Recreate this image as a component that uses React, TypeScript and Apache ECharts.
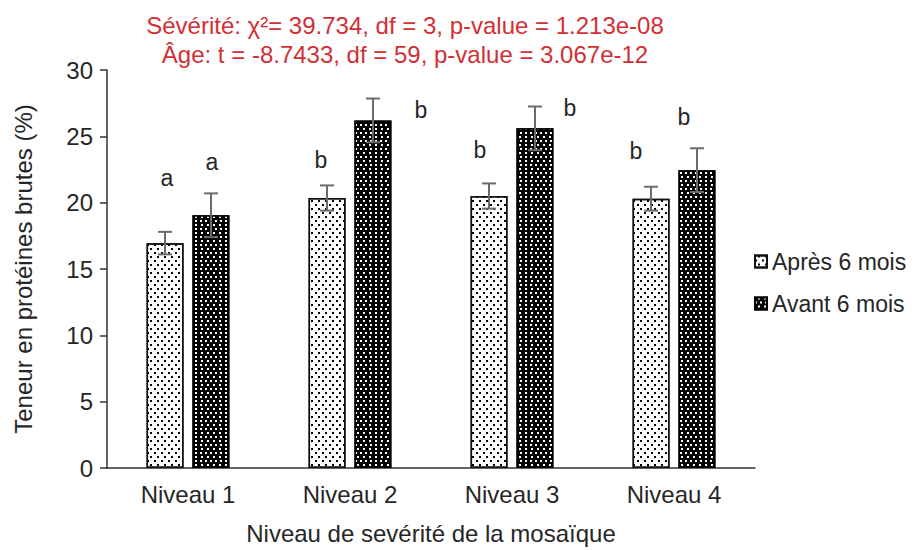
import React, { useEffect, useRef } from "react";
import * as echarts from "echarts";

const categories = ["Niveau 1", "Niveau 2", "Niveau 3", "Niveau 4"];
const seriesNames = ["Après 6 mois", "Avant 6 mois"];
const apresValues = [16.95, 20.35, 20.5, 20.3];
const apresErrors = [0.85, 0.95, 0.95, 0.9];
const avantValues = [19.05, 26.2, 25.6, 22.45];
const avantErrors = [1.65, 1.65, 1.65, 1.65];
// letters: [categoryIndex, y value, horizontal offset in px, text]
const apresLetters = [
  [0, 21.85, -21, "a"],
  [1, 23.2, -29, "b"],
  [2, 23.95, -32, "b"],
  [3, 23.9, -38, "b"],
];
const avantLetters = [
  [0, 23.05, 24, "a"],
  [1, 26.95, 71, "b"],
  [2, 27.1, 58, "b"],
  [3, 26.45, 10, "b"],
];
const titleLines = [
  "Sévérité: χ²= 39.734, df = 3, p-value = 1.213e-08",
  "Âge: t = -8.7433, df = 59, p-value = 3.067e-12",
];
const yAxisName = "Teneur en protéines brutes (%)";
const xAxisName = "Niveau de sevérité de la mosaïque";

const FONT = "'Liberation Sans', Arial, sans-serif";
const TXT = "#262626";

function errorSeries(values: number[], errs: number[], dx: number) {
  return {
    type: "custom",
    silent: true,
    z: 10,
    encode: { x: 0, y: 1 },
    data: values.map((v, i) => [i, v, errs[i]]),
    renderItem: (_p: any, api: any) => {
      const i = api.value(0);
      const v = api.value(1);
      const e = api.value(2);
      const top = api.coord([i, v + e]);
      const bot = api.coord([i, v - e]);
      const x = top[0] + dx;
      const w = 7;
      const style = { stroke: "#6b6b6b", lineWidth: 2 };
      return {
        type: "group",
        children: [
          { type: "line", shape: { x1: x, y1: top[1], x2: x, y2: bot[1] }, style },
          { type: "line", shape: { x1: x - w, y1: top[1], x2: x + w, y2: top[1] }, style },
          { type: "line", shape: { x1: x - w, y1: bot[1], x2: x + w, y2: bot[1] }, style },
        ],
      };
    },
  };
}

function letterSeries(letters: any[]) {
  return {
    type: "custom",
    silent: true,
    z: 11,
    encode: { x: 0, y: 1 },
    data: letters.map((l) => [l[0], l[1], l[2], l[3]]),
    renderItem: (_p: any, api: any) => {
      const p = api.coord([api.value(0), api.value(1)]);
      return {
        type: "text",
        x: p[0] + api.value(2),
        y: p[1],
        style: {
          text: String(api.value(3)),
          fill: TXT,
          font: `23px ${FONT}`,
          align: "center",
          verticalAlign: "middle",
        },
      };
    },
  };
}

export default function App() {
  const ref = useRef<HTMLDivElement>(null);
  useEffect(() => {
    if (!ref.current) return;
    const chart = echarts.init(ref.current, null, { renderer: "svg" });
    const whiteDecal = {
      symbol: "rect",
      symbolSize: 1,
      color: "#000",
      dashArrayX: [
        [1.5, 4.5],
        [0, 3, 1.5, 1.5],
      ],
      dashArrayY: [1.5, 2],
    };
    const blackDecal = {
      symbol: "rect",
      symbolSize: 1,
      color: "#fff",
      dashArrayX: [
        [1.5, 3],
        [0, 2.25, 1.5, 0.75],
      ],
      dashArrayY: [1.5, 1.5],
    };
    chart.setOption({
      animation: false,
      backgroundColor: "#fff",
      textStyle: { fontFamily: FONT },
      graphic: [
        {
          type: "text",
          x: 405,
          y: 11,
          style: {
            text: titleLines.join("\n"),
            fill: "#d22f35",
            font: `24px ${FONT}`,
            lineHeight: 29,
            align: "center",
          },
        },
      ],
      legend: {
        orient: "vertical",
        left: 749,
        top: 245,
        itemWidth: 12,
        itemHeight: 12,
        itemGap: 19,
        icon: "rect",
        data: seriesNames,
        textStyle: { fontSize: 23, color: TXT, fontFamily: FONT, padding: [0, 0, 0, 0] },
      },
      grid: {
        left: 107,
        right: 161,
        top: 70,
        bottom: 82,
        containLabel: false,
        outerBoundsMode: "none",
      },
      xAxis: {
        type: "category",
        data: categories,
        axisLine: { lineStyle: { color: "#333", width: 1.5 } },
        axisTick: { length: 8, lineStyle: { color: "#333", width: 1.5 } },
        axisLabel: { fontSize: 24, color: TXT, margin: 14, fontFamily: FONT },
        name: xAxisName,
        nameLocation: "middle",
        nameGap: 53,
        nameTextStyle: { fontSize: 24, color: TXT, fontFamily: FONT },
      },
      yAxis: {
        type: "value",
        min: 0,
        max: 30,
        interval: 5,
        splitLine: { show: false },
        axisLine: { show: true, lineStyle: { color: "#333", width: 1.5 } },
        axisTick: { show: true, length: 7, lineStyle: { color: "#333", width: 1.5 } },
        axisLabel: { fontSize: 24, color: TXT, margin: 14, fontFamily: FONT },
        name: yAxisName,
        nameLocation: "middle",
        nameGap: 72,
        nameTextStyle: { fontSize: 24, color: TXT, fontFamily: FONT },
      },
      series: [
        {
          name: seriesNames[0],
          type: "bar",
          data: apresValues,
          barWidth: 37,
          barGap: "24%",
          itemStyle: { color: "#fff", borderColor: "#111", borderWidth: 1.5, decal: whiteDecal },
        },
        {
          name: seriesNames[1],
          type: "bar",
          data: avantValues,
          barWidth: 37,
          barGap: "24%",
          itemStyle: { color: "#000", borderColor: "#000", borderWidth: 1.5, decal: blackDecal },
        },
        errorSeries(apresValues, apresErrors, -23),
        errorSeries(avantValues, avantErrors, 23),
        letterSeries(apresLetters),
        letterSeries(avantLetters),
      ],
    });
    return () => chart.dispose();
  }, []);
  return (
    <div
      ref={ref}
      style={{ position: "absolute", left: 0, top: 0, width: 916, height: 550 }}
    />
  );
}
